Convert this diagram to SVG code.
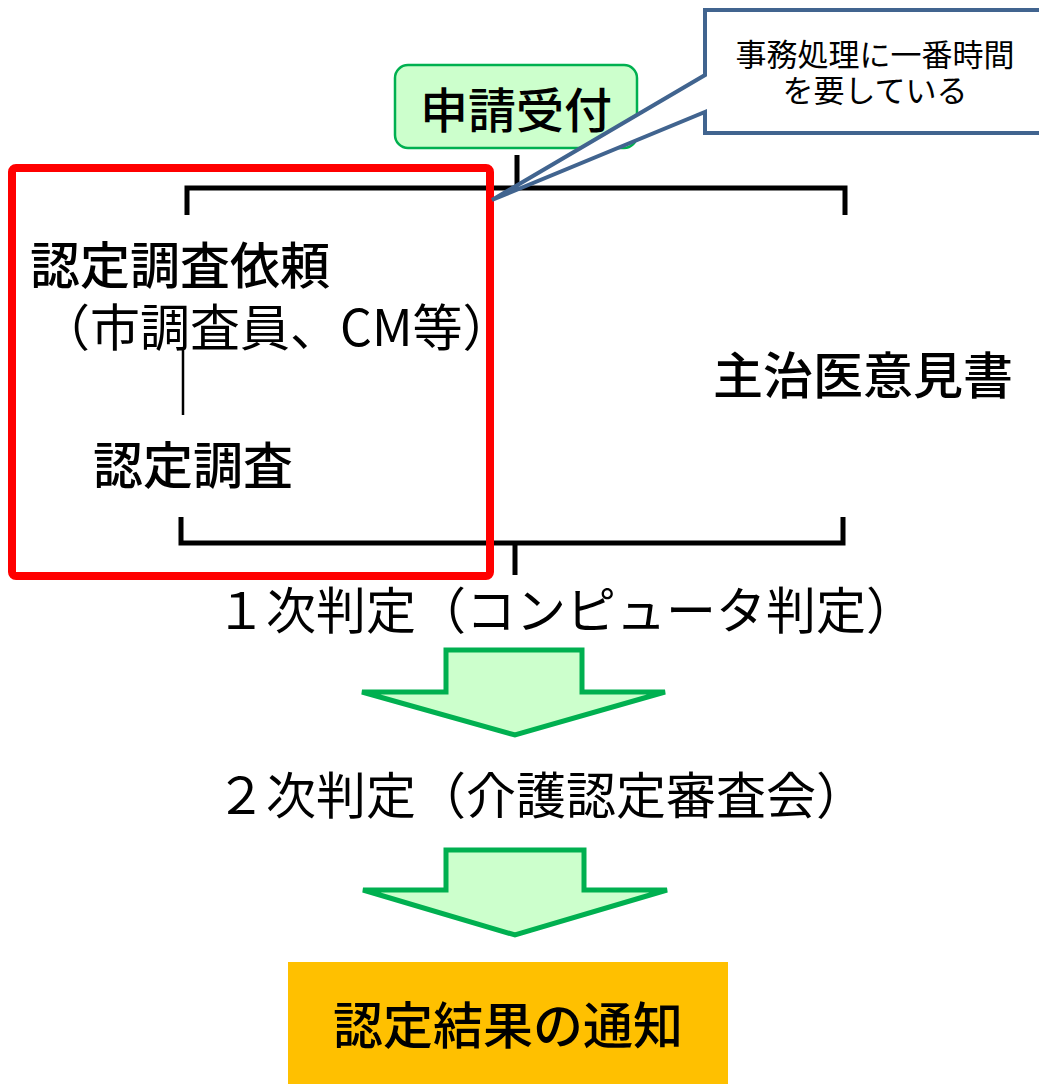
<svg xmlns="http://www.w3.org/2000/svg" width="1039" height="1084" viewBox="0 0 1039 1084">
<style>
text{font-family:"Noto Sans CJK JP","Liberation Sans",sans-serif;fill:#000}
.b{font-weight:500}
.m{font-size:50px}
.ln{stroke:#000;stroke-width:5;fill:none}
.arrow{fill:#CCFFCC;stroke:#00B050;stroke-width:5;stroke-linejoin:miter}
</style>
<rect width="1039" height="1084" fill="#fff"/>
<g id="connectors">
<line class="ln" x1="517" y1="155" x2="517" y2="188"/>
<path class="ln" d="M187 215 V188 H845 V215"/>
<path class="ln" d="M181 517 V543 H843 V517"/>
<line class="ln" x1="515" y1="543" x2="515" y2="575"/>
<line x1="183" y1="350" x2="183" y2="415" stroke="#000" stroke-width="2.5"/>
</g>
<g id="node-uketsuke">
<rect x="395" y="65" width="242" height="83" rx="13" fill="#CCFFCC" stroke="#00B050" stroke-width="2.5"/>
<text class="b" font-size="48" x="516" y="128" text-anchor="middle">申請受付</text>
</g>
<g id="node-red-frame">
<rect x="12" y="168" width="478" height="408" rx="4" fill="none" stroke="#FF0000" stroke-width="8"/>
</g>
<g id="node-irai">
<text class="m b" x="30" y="284">認定調査依頼</text>
<text class="m" x="40" y="346">（市調査員、CM等）</text>
</g>
<g id="node-chosa">
<text class="m b" x="93" y="484">認定調査</text>
</g>
<g id="node-ikensho">
<text class="m b" x="713" y="394">主治医意見書</text>
</g>
<g id="node-callout">
<path d="M705 10 H1045 V133 H705 V112 L492 200 L705 75 Z" fill="#fff" stroke="#41648F" stroke-width="4" stroke-linejoin="miter"/>
<text x="875" y="66" font-size="31" text-anchor="middle">事務処理に一番時間</text>
<text x="875" y="102" font-size="31" text-anchor="middle">を要している</text>
</g>
<g id="node-hantei1">
<text class="m" x="216" y="629">１次判定（コンピュータ判定）</text>
</g>
<g id="arrow-1">
<path class="arrow" d="M446 650 H582 V692 H665 L515 735 L362 692 H446 Z"/>
</g>
<g id="node-hantei2">
<text class="m" x="216" y="814">２次判定（介護認定審査会）</text>
</g>
<g id="arrow-2">
<path class="arrow" d="M446 850 H584 V890 H667 L515 935 L363 890 H446 Z"/>
</g>
<g id="node-tsuchi">
<rect x="288" y="962" width="440" height="130" fill="#FFC000"/>
<text class="m b" x="508" y="1044" text-anchor="middle">認定結果の通知</text>
</g>
</svg>
